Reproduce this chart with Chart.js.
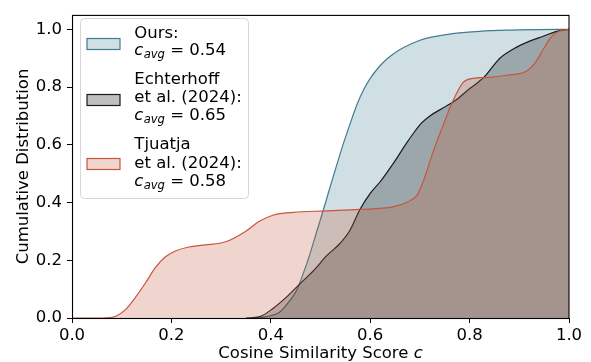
<!DOCTYPE html>
<html><head><meta charset="utf-8">
<script src="https://cdn.jsdelivr.net/npm/chart.js@4/dist/chart.umd.min.js"></script>
<style>html,body{margin:0;padding:0;background:#fff;}#wrap{width:591px;height:362px;position:relative;}</style>
</head><body><div id="wrap"><canvas id="c" width="591" height="362"></canvas></div>
<script>
// ---- data ----
const oursX = [0.37, 0.392, 0.419, 0.439, 0.452, 0.465, 0.479, 0.492, 0.506, 0.519, 0.533, 0.546, 0.56, 0.573, 0.586, 0.600, 0.613, 0.626, 0.643, 0.660, 0.683, 0.707, 0.74, 0.77, 0.82, 0.875, 0.94, 1.0];
const oursY = [0, 0.005, 0.022, 0.062, 0.096, 0.153, 0.223, 0.297, 0.376, 0.452, 0.532, 0.604, 0.675, 0.738, 0.788, 0.830, 0.860, 0.885, 0.910, 0.930, 0.950, 0.966, 0.978, 0.986, 0.993, 0.997, 0.999, 1.0];

const echX = [0.35, 0.378, 0.405, 0.432, 0.459, 0.486, 0.512, 0.539, 0.559, 0.579, 0.600, 0.620, 0.637, 0.653, 0.670, 0.687, 0.703, 0.720, 0.747, 0.774, 0.801, 0.816, 0.831, 0.846, 0.861, 0.888, 0.922, 0.948, 0.975, 1.0];
const echY = [0, 0.005, 0.034, 0.073, 0.119, 0.164, 0.215, 0.258, 0.303, 0.375, 0.432, 0.472, 0.512, 0.552, 0.598, 0.640, 0.675, 0.700, 0.728, 0.757, 0.796, 0.815, 0.838, 0.870, 0.900, 0.932, 0.960, 0.976, 0.993, 1.0];

const tjuX = [0, 0.06, 0.075, 0.087, 0.107, 0.127, 0.148, 0.168, 0.188, 0.208, 0.235, 0.268, 0.309, 0.349, 0.376, 0.404, 0.445, 0.512, 0.579, 0.646, 0.673, 0.694, 0.706, 0.727, 0.747, 0.767, 0.787, 0.807, 0.834, 0.875, 0.915, 0.932, 0.948, 0.965, 0.982, 1.0];
const tjuY = [0, 0, 0.001, 0.005, 0.028, 0.070, 0.122, 0.175, 0.212, 0.232, 0.246, 0.253, 0.264, 0.300, 0.334, 0.356, 0.366, 0.371, 0.376, 0.385, 0.400, 0.425, 0.470, 0.578, 0.669, 0.754, 0.816, 0.830, 0.833, 0.841, 0.856, 0.884, 0.930, 0.975, 0.995, 1.0];

const seriesNames = [["Ours:"], ["Echterhoff", "et al. (2024):"], ["Tjuatja", "et al. (2024):"]];
const cAvg = ["0.54", "0.65", "0.58"];
const xTicks = [0, 0.2, 0.4, 0.6, 0.8, 1.0];
const yTicks = [0, 0.2, 0.4, 0.6, 0.8, 1.0];
const xTitle = "Cosine Similarity Score ";
const xTitleVar = "c";
const yTitle = "Cumulative Distribution";

// ---- styles ----
const FONT = '"DejaVu Sans", "Liberation Sans", sans-serif';
const FS = 16.5;
const lineColors = ["#407e92", "#1a1a1a", "#c8553d"];
const fillColors = ["rgba(67,127,147,0.25)", "rgba(0,0,0,0.25)", "rgba(195,87,59,0.25)"];

const pts = (xs, ys) => xs.map((x, i) => ({x: x, y: ys[i]}));

function ds(label, xs, ys, k, order) {
  return {
    label: label, data: pts(xs, ys), order: order,
    borderColor: lineColors[k], backgroundColor: fillColors[k],
    borderWidth: 1.2, pointRadius: 0, fill: 'origin',
    cubicInterpolationMode: 'monotone'
  };
}

function drawCavg(ctx, x, y, val) {
  ctx.font = 'italic ' + FS + 'px ' + FONT;
  ctx.fillText('c', x, y);
  let w = ctx.measureText('c').width;
  ctx.font = 'italic ' + (FS * 0.7) + 'px ' + FONT;
  ctx.fillText('avg', x + w + 0.3, y + 3.3);
  let w2 = ctx.measureText('avg').width;
  ctx.font = FS + 'px ' + FONT;
  ctx.fillText(' = ' + val, x + w + 0.3 + w2, y);
}

const decor = {
  id: 'decor',
  afterDatasetsDraw(chart) {
    const ctx = chart.ctx, a = chart.chartArea;
    ctx.save();
    ctx.strokeStyle = '#000'; ctx.lineWidth = 1.1;
    ctx.strokeRect(a.left + 0.5, a.top + 0.5, a.right - a.left - 0.5, a.bottom - a.top);
    ctx.restore();
  },
  afterDraw(chart) {
    const ctx = chart.ctx, a = chart.chartArea;
    ctx.save();
    // legend box
    const bx = 80.5, by = 18.5, bw = 168, bh = 180, r = 4;
    ctx.beginPath();
    ctx.moveTo(bx + r, by); ctx.lineTo(bx + bw - r, by); ctx.quadraticCurveTo(bx + bw, by, bx + bw, by + r);
    ctx.lineTo(bx + bw, by + bh - r); ctx.quadraticCurveTo(bx + bw, by + bh, bx + bw - r, by + bh);
    ctx.lineTo(bx + r, by + bh); ctx.quadraticCurveTo(bx, by + bh, bx, by + bh - r);
    ctx.lineTo(bx, by + r); ctx.quadraticCurveTo(bx, by, bx + r, by);
    ctx.closePath();
    ctx.fillStyle = 'rgba(255,255,255,0.8)'; ctx.fill();
    ctx.strokeStyle = '#d6d6d6'; ctx.lineWidth = 1; ctx.stroke();
    const patchY = [38.5, 94.5, 158.5];
    const baseY = [[37.5, 55], [84, 102.3, 120], [149.3, 167.7, 185.7]];
    ctx.fillStyle = '#000';
    for (let k = 0; k < 3; k++) {
      ctx.fillStyle = '#fff'; ctx.fillRect(87, patchY[k], 33, 11);
      ctx.fillStyle = fillColors[k]; ctx.fillRect(87, patchY[k], 33, 11);
      ctx.strokeStyle = lineColors[k]; ctx.lineWidth = 1.2; ctx.strokeRect(87, patchY[k], 33, 11);
      ctx.fillStyle = '#000'; ctx.textAlign = 'left'; ctx.textBaseline = 'alphabetic';
      const names = seriesNames[k];
      for (let j = 0; j < names.length; j++) {
        ctx.font = FS + 'px ' + FONT;
        ctx.fillText(names[j], 134.3, baseY[k][j]);
      }
      drawCavg(ctx, 134.3, baseY[k][names.length], cAvg[k]);
    }
    // x title
    ctx.fillStyle = '#000'; ctx.textBaseline = 'alphabetic'; ctx.textAlign = 'left';
    ctx.font = FS + 'px ' + FONT;
    const w1 = ctx.measureText(xTitle).width;
    ctx.font = 'italic ' + FS + 'px ' + FONT;
    const w2 = ctx.measureText(xTitleVar).width;
    const cx = (a.left + a.right) / 2, sx = cx - (w1 + w2) / 2;
    ctx.font = FS + 'px ' + FONT; ctx.fillText(xTitle, sx, 358);
    ctx.font = 'italic ' + FS + 'px ' + FONT; ctx.fillText(xTitleVar, sx + w1, 358);
    // y title
    ctx.translate(28.3, (a.top + a.bottom) / 2);
    ctx.rotate(-Math.PI / 2);
    ctx.textAlign = 'center'; ctx.font = FS + 'px ' + FONT;
    ctx.fillText(yTitle, 0, 0);
    ctx.restore();
  }
};

new Chart(document.getElementById('c'), {
  type: 'line',
  data: { datasets: [
    ds('Ours', oursX, oursY, 0, 3),
    ds('Echterhoff et al. (2024)', echX, echY, 1, 2),
    ds('Tjuatja et al. (2024)', tjuX, tjuY, 2, 1)
  ]},
  options: {
    responsive: false, animation: false, devicePixelRatio: 1,
    layout: { padding: { left: 0, top: 9, right: 22, bottom: 0 } },
    plugins: { legend: { display: false }, tooltip: { enabled: false },
      filler: { drawTime: 'beforeDatasetDraw' } },
    scales: {
      x: { type: 'linear', min: 0, max: 1,
        afterFit(s) { s.height = 44; },
        afterBuildTicks(s) { s.ticks = xTicks.map(v => ({value: v})); },
        grid: { drawOnChartArea: false, drawTicks: true, tickLength: 5, color: '#000', lineWidth: 1 },
        border: { display: false },
        ticks: { padding: 3, color: '#000', font: { family: FONT, size: FS }, maxRotation: 0,
          callback: v => v.toFixed(1) } },
      y: { type: 'linear', min: 0, max: 1.05,
        afterFit(s) { s.width = 72; },
        afterBuildTicks(s) { s.ticks = yTicks.map(v => ({value: v})); },
        grid: { drawOnChartArea: false, drawTicks: true, tickLength: 5, color: '#000', lineWidth: 1 },
        border: { display: false },
        ticks: { padding: 5, color: '#000', font: { family: FONT, size: FS },
          callback: v => v.toFixed(1) } }
    }
  },
  plugins: [decor]
});
</script></body></html>
